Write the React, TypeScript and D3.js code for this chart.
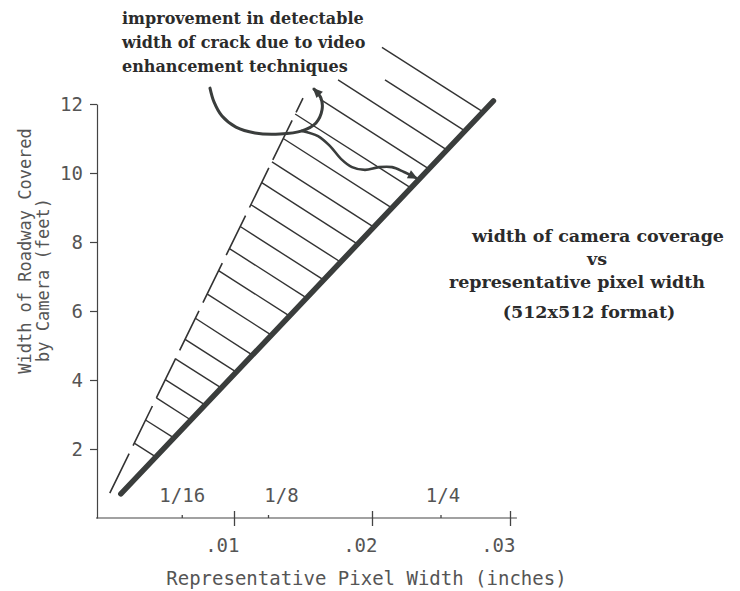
import * as d3 from 'd3';
import React, { useRef, useEffect } from 'react';

// pixel width (inches) vs width of roadway covered (feet)
const coverageLine = [[0.0018, 0.70], [0.0288, 12.09]];
const enhancedLine = [[0.0010, 0.72], [0.0150, 12.17]];

// hatching between the two lines: start point and end point (on the coverage line)
const hatchFrom = [
  [0.02072, 13.64], [0.02094, 12.70], [0.01754, 12.70], [0.01623, 12.14], [0.01443, 11.71],
  [0.01357, 11.00], [0.01275, 10.32], [0.01201, 9.72], [0.01123, 9.08], [0.01045, 8.45],
  [0.00967, 7.81], [0.00888, 7.17], [0.00807, 6.49], [0.00720, 5.79], [0.00646, 5.18],
  [0.00576, 4.61], [0.00502, 4.01], [0.00438, 3.48], [0.00359, 2.84], [0.00277, 2.17],
];
const hatchTo = [
  [0.02804, 11.77], [0.02673, 11.22], [0.02542, 10.67], [0.02412, 10.12], [0.02281, 9.57],
  [0.02143, 8.99], [0.02013, 8.43], [0.01896, 7.94], [0.01772, 7.42], [0.01649, 6.90],
  [0.01525, 6.38], [0.01401, 5.86], [0.01271, 5.30], [0.01134, 4.72], [0.01017, 4.23],
  [0.00907, 3.77], [0.00790, 3.28], [0.00687, 2.84], [0.00564, 2.32], [0.00433, 1.77],
];

// hand drawn arrow of the annotation
const arrowMain = [
  [0.00826, 12.46], [0.00855, 12.06], [0.00913, 11.65], [0.01014, 11.33], [0.01152, 11.16],
  [0.01333, 11.13], [0.01493, 11.22], [0.01594, 11.45], [0.01638, 11.83], [0.01630, 12.17],
  [0.01580, 12.43],
];
const arrowBranch = [
  [0.01493, 11.22], [0.01609, 11.07], [0.01696, 10.78], [0.01775, 10.41], [0.01855, 10.17],
  [0.01949, 10.09], [0.02051, 10.17], [0.02145, 10.17], [0.02232, 10.03], [0.02319, 9.86],
];

const yTicks = [2, 4, 6, 8, 10, 12];
const xTicks = [0.01, 0.02, 0.03];
const xTickLabels = ['.01', '.02', '.03'];
const crackTicks = [0.00625, 0.0125, 0.025];
const crackLabels = ['1/16', '1/8', '1/4'];
const crackLabelDx = [0, 13, 2];

const noteLines = ['improvement in detectable', 'width of crack due to video', 'enhancement techniques'];
const titleLines = ['width of camera coverage', 'vs', 'representative pixel width', '(512x512 format)'];
const titleX = [598, 597, 577, 589];
const titleY = [242, 265, 288, 318];

const W = 740, H = 591;
const mono = '"DejaVu Sans Mono", monospace';
const serif = '"DejaVu Serif", serif';

export default function App() {
  const ref = useRef(null);

  useEffect(() => {
    const svg = d3.select(ref.current);
    svg.selectAll('*').remove();

    const x = d3.scaleLinear().domain([0, 0.03]).range([96, 510]);
    const y = d3.scaleLinear().domain([0, 12]).range([518, 104]);
    const line = d3.line().x(d => x(d[0])).y(d => y(d[1]));
    const curve = d3.line().x(d => x(d[0])).y(d => y(d[1])).curve(d3.curveCatmullRom);

    const defs = svg.append('defs');
    defs.append('marker')
      .attr('id', 'head')
      .attr('viewBox', '0 -5 10 10')
      .attr('refX', 8).attr('refY', 0)
      .attr('markerWidth', 12).attr('markerHeight', 10)
      .attr('markerUnits', 'userSpaceOnUse')
      .attr('orient', 'auto')
      .append('path').attr('d', 'M0,-4.5L10,0L0,4.5Z').attr('fill', '#3a3d3c');

    // y axis
    const yAxis = svg.append('g')
      .attr('transform', `translate(${x(0) + 1},0)`)
      .call(d3.axisLeft(y).tickValues(yTicks).tickSize(7).tickPadding(7).tickSizeOuter(0));
    yAxis.select('.domain').attr('stroke', '#444').attr('stroke-width', 1.2);
    yAxis.selectAll('line').attr('stroke', '#444').attr('stroke-width', 1.2);
    yAxis.selectAll('text').attr('font-family', mono).attr('font-size', 19).attr('fill', '#555');

    // x axis
    const xAxis = svg.append('g')
      .attr('transform', `translate(0,${y(0)})`)
      .call(d3.axisBottom(x).tickValues(xTicks).tickFormat((d, i) => xTickLabels[i]).tickSize(7).tickSizeOuter(0));
    xAxis.select('.domain').remove();
    xAxis.append('line')
      .attr('x1', x(0)).attr('x2', x(0.0305))
      .attr('stroke', '#444').attr('stroke-width', 1.2);
    xAxis.selectAll('.tick line').attr('y1', -7).attr('y2', 8).attr('stroke', '#444').attr('stroke-width', 1.3);
    xAxis.selectAll('.tick text')
      .attr('font-family', mono).attr('font-size', 19).attr('fill', '#555')
      .attr('text-anchor', 'end').attr('x', 5).attr('y', 21);

    // crack width marks (1/16, 1/8, 1/4)
    const crack = svg.append('g').attr('transform', `translate(0,${y(0)})`);
    crack.selectAll('line').data(crackTicks).join('line')
      .attr('x1', d => x(d)).attr('x2', d => x(d))
      .attr('y1', 0).attr('y2', -3)
      .attr('stroke', '#444').attr('stroke-width', 1.3);
    crack.selectAll('text').data(crackTicks).join('text')
      .attr('x', (d, i) => x(d) + crackLabelDx[i]).attr('y', -16)
      .attr('text-anchor', 'middle')
      .attr('font-family', mono).attr('font-size', 19).attr('fill', '#555')
      .text((d, i) => crackLabels[i]);

    // hatching
    svg.append('g').selectAll('line').data(hatchFrom).join('line')
      .attr('x1', d => x(d[0])).attr('y1', d => y(d[1]))
      .attr('x2', (d, i) => x(hatchTo[i][0])).attr('y2', (d, i) => y(hatchTo[i][1]))
      .attr('stroke', '#333').attr('stroke-width', 1.4);

    // enhanced (dashed) line
    svg.append('path').attr('d', line(enhancedLine))
      .attr('fill', 'none').attr('stroke', '#333').attr('stroke-width', 1.6)
      .attr('stroke-dasharray', '44 9');

    // camera coverage (thick) line
    svg.append('path').attr('d', line(coverageLine))
      .attr('fill', 'none').attr('stroke', '#3a3d3c').attr('stroke-width', 5.5)
      .attr('stroke-linecap', 'round');

    // annotation arrow
    svg.append('path').attr('d', curve(arrowMain))
      .attr('fill', 'none').attr('stroke', '#3a3d3c').attr('stroke-width', 3)
      .attr('stroke-linecap', 'round').attr('marker-end', 'url(#head)');
    svg.append('path').attr('d', curve(arrowBranch))
      .attr('fill', 'none').attr('stroke', '#3a3d3c').attr('stroke-width', 2.6)
      .attr('stroke-linecap', 'round').attr('marker-end', 'url(#head)');

    // annotation text
    svg.append('g').selectAll('text').data(noteLines).join('text')
      .attr('x', 122).attr('y', (d, i) => 24 + i * 24)
      .attr('font-family', serif).attr('font-size', 16).attr('font-weight', 'bold')
      .attr('fill', '#2b2b2b')
      .text(d => d);

    svg.append('g').selectAll('text').data(titleLines).join('text')
      .attr('x', (d, i) => titleX[i]).attr('y', (d, i) => titleY[i])
      .attr('text-anchor', 'middle')
      .attr('font-family', serif).attr('font-size', 17.5).attr('font-weight', 'bold')
      .attr('fill', '#2b2b2b')
      .text(d => d);

    // axis titles
    svg.append('text')
      .attr('x', (x(0) + x(0.0305)) / 2 + 60).attr('y', 585)
      .attr('text-anchor', 'middle')
      .attr('font-family', mono).attr('font-size', 19).attr('fill', '#555')
      .text('Representative Pixel Width (inches)');

    const yt = svg.append('g');
    yt.append('text')
      .attr('transform', 'translate(31,251) rotate(-90)')
      .attr('text-anchor', 'middle')
      .attr('font-family', mono).attr('font-size', 17).attr('fill', '#555')
      .text('Width of Roadway Covered');
    yt.append('text')
      .attr('transform', 'translate(49,280) rotate(-90)')
      .attr('text-anchor', 'middle')
      .attr('font-family', mono).attr('font-size', 17).attr('fill', '#555')
      .text('by Camera (feet)');
  }, []);

  return (
    <svg ref={ref} width={W} height={H}
      style={{ position: 'absolute', left: 0, top: 0, background: '#fff' }} />
  );
}
